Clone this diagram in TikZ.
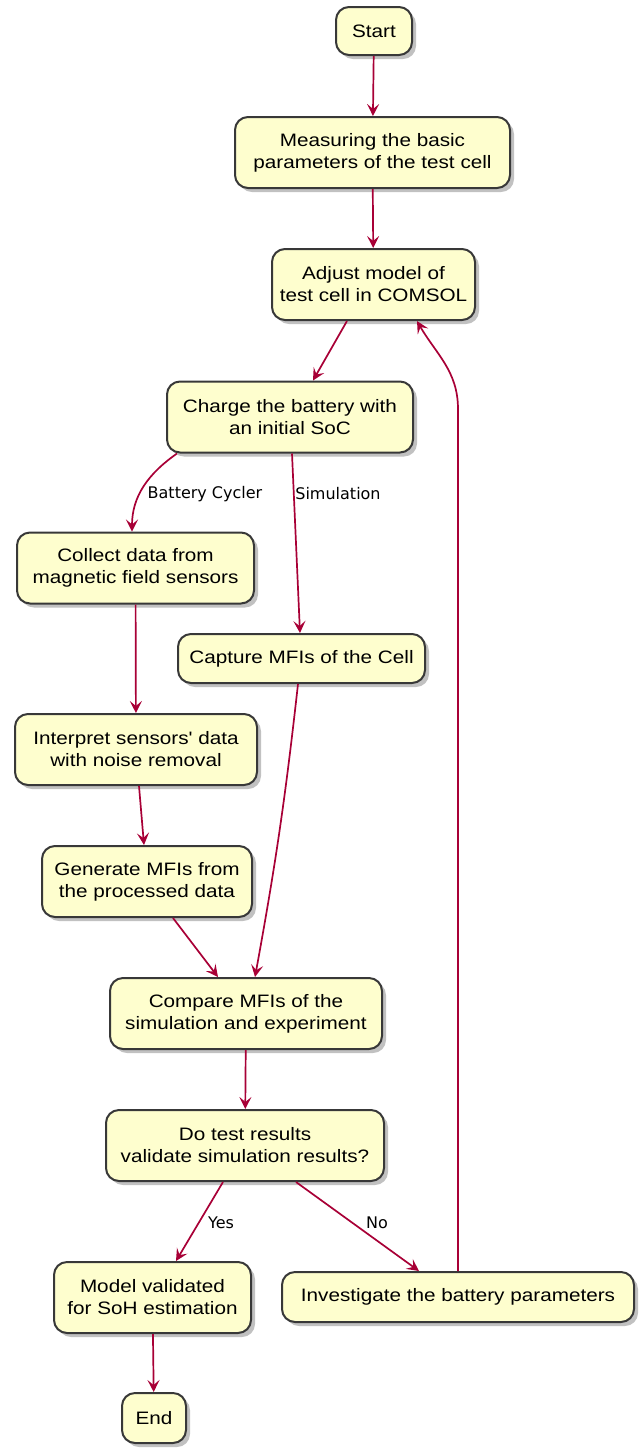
\documentclass[tikz,border=0pt]{standalone}
\usepackage{fontspec}
\newfontfamily\boxfont[FakeStretch=1.15]{Liberation Sans}
\newfontfamily\labelfont{DejaVu Sans}
\usetikzlibrary{arrows.meta,shadows}
\definecolor{actfill}{HTML}{FEFECE}
\definecolor{actline}{HTML}{383838}
\definecolor{flowred}{HTML}{A80036}
\tikzset{
  act/.style={draw=actline,fill=actfill,line width=1pt,rounded corners=6.5pt,
    align=center,inner sep=0pt,minimum height=35.5pt,
    font=\boxfont\fontsize{9}{11}\selectfont,
    drop shadow={shadow xshift=2pt,shadow yshift=-2pt,opacity=0.35,fill=black!70}},
  flow/.style={draw=flowred,line width=0.85pt,-{Stealth[length=6pt,width=6pt,inset=2.5pt]}},
  lbl/.style={font=\labelfont\fontsize{8}{10}\selectfont,inner sep=0pt}
}
\begin{document}
\begin{tikzpicture}[x=0.5pt,y=0.5pt]
        \useasboundingbox (0,0) rectangle (641,-1448);
        \node[act,minimum width=38pt,minimum height=24pt] (start) at (374,-31){Start};
        \node[act,minimum width=137.5pt] (measure) at (372.5,-152.5){Measuring the basic\\parameters of the test cell};
        \node[act,minimum width=101.5pt] (adjust) at (373.5,-284.5){Adjust model of\\test cell in COMSOL};
        \node[act,minimum width=123pt] (charge) at (290,-417){Charge the battery with\\an initial SoC};
        \node[act,minimum width=118.5pt] (collect) at (135.5,-568){Collect data from\\magnetic field sensors};
        \node[act,minimum width=123.5pt,minimum height=24.5pt] (capture) at (301.5,-658.5){Capture MFIs of the Cell};
        \node[act,minimum width=121pt] (interpret) at (136,-749.5){Interpret sensors' data\\with noise removal};
        \node[act,minimum width=105pt] (generate) at (147,-881.5){Generate MFIs from\\the processed data};
        \node[act,minimum width=136pt] (compare) at (246,-1013.5){Compare MFIs of the\\simulation and experiment};
        \node[act,minimum width=139pt] (dotest) at (245,-1145.5){Do test results\\validate simulation results?};
        \node[act,minimum width=98.5pt] (validated) at (152.5,-1297.5){Model validated\\for SoH estimation};
        \node[act,minimum width=176pt,minimum height=25pt] (investigate) at (458,-1297){Investigate the battery parameters};
        \node[act,minimum width=32pt,minimum height=25pt] (end) at (154,-1418){End};

        \node[lbl] (lcycler) at (205,-494){Battery Cycler};
        \node[lbl] (lsim) at (338,-494){Simulation};
        \node[lbl] (lyes) at (221,-1223){Yes};
        \node[lbl] (lno) at (377,-1223){No};

        \draw[flow] (start) -- (measure);
        \draw[flow] (measure) -- (adjust);
        \draw[flow] ([xshift=-13.25pt]adjust.south) -- ([xshift=11.5pt]charge.north);
        \draw[flow] ([xshift=-56.5pt]charge.south) to[out=215,in=90] ([xshift=-1.75pt]collect.north);
        \draw[flow] ([xshift=1pt]charge.south) -- ([xshift=-0.75pt]capture.north);
        \draw[flow] (collect) -- (interpret);
        \draw[flow] ([xshift=-1.75pt]capture.south) to[bend left=2] ([xshift=4.5pt]compare.north);
        \draw[flow] ([xshift=1.5pt]interpret.south) -- ([xshift=-1.5pt]generate.north);
        \draw[flow] ([xshift=13pt]generate.south) -- ([xshift=-14pt]compare.north);
        \draw[flow] (compare) -- (dotest);
        \draw[flow] ([xshift=-11pt]dotest.south) -- ([xshift=11.75pt]validated.north);
        \draw[flow] ([xshift=25.5pt]dotest.south) -- ([xshift=-19.5pt]investigate.north);
        \draw[flow] (validated) -- (end);
        \draw[flow] (investigate.north) -- ++(0,862) to[out=90,in=-60] ([xshift=21.75pt]adjust.south);
    \end{tikzpicture}
\end{document}
